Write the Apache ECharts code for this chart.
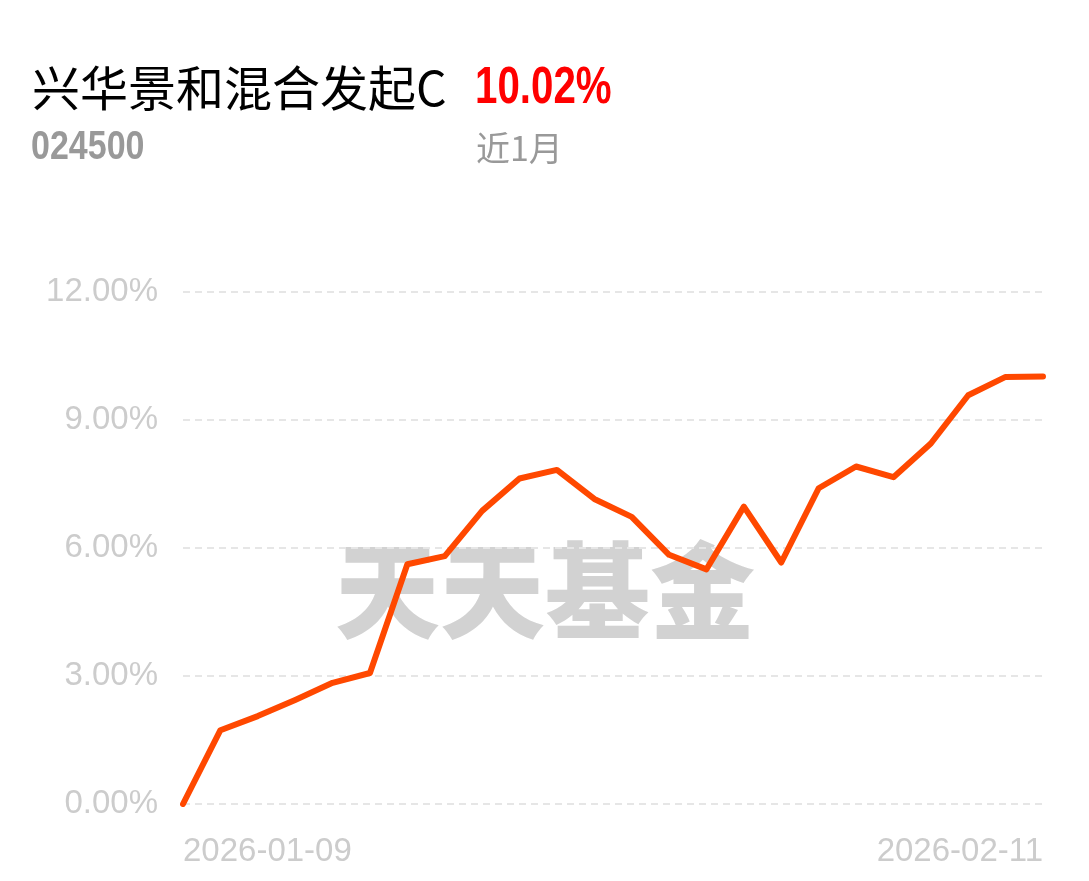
<!DOCTYPE html>
<html>
<head>
<meta charset="utf-8">
<script src="https://cdn.jsdelivr.net/npm/echarts@6/dist/echarts.min.js"></script>
<style>
html,body{margin:0;padding:0;background:#fff;}
#c{width:1089px;height:881px;}
</style>
</head>
<body>
<div id="c"></div>
<script>
var fundName = '兴华景和混合发起C';
var fundCode = '024500';
var periodReturn = '10.02%';
var periodLabel = '近1月';
var watermark = '天天基金';

var dates = ['2026-01-09','2026-01-12','2026-01-13','2026-01-14','2026-01-15','2026-01-16',
  '2026-01-19','2026-01-20','2026-01-21','2026-01-22','2026-01-23',
  '2026-01-26','2026-01-27','2026-01-28','2026-01-29','2026-01-30',
  '2026-02-02','2026-02-03','2026-02-04','2026-02-05','2026-02-06',
  '2026-02-09','2026-02-10','2026-02-11'];
var returns = [0, 1.73, 2.06, 2.44, 2.84, 3.07,
  5.62, 5.81, 6.87, 7.63, 7.83,
  7.15, 6.73, 5.84, 5.50, 6.97,
  5.66, 7.40, 7.91, 7.66, 8.45,
  9.58, 10.01, 10.02];
var yTicks = [0, 3, 6, 9, 12];

var chart = echarts.init(document.getElementById('c'));
chart.setOption({
  backgroundColor: '#fff',
  animation: false,
  graphic: [
    {type:'text', x:32, y:64, z:10, style:{text:fundName, fill:'#000', font:'48px "Noto Sans CJK SC"'}},
    {type:'text', x:475, y:63, scaleX:0.79, z:10, style:{text:periodReturn, fill:'#ff0000', font:'bold 51px "Liberation Sans", sans-serif'}},
    {type:'text', x:31, y:128, scaleX:0.85, z:10, style:{text:fundCode, fill:'#999999', font:'bold 40px "Liberation Sans", sans-serif'}},
    {type:'text', x:476, y:131, z:10, style:{text:periodLabel, fill:'#999999', font:'34px "Noto Sans CJK SC"'}},
    {type:'text', x:545, y:590, z:0, style:{text:watermark, fill:'#d2d2d2', font:'900 105px "Noto Sans CJK SC"', align:'center', verticalAlign:'middle'}}
  ],
  grid: {left:183, right:46, top:292, bottom:77, containLabel:false},
  xAxis: {
    type:'category', data:dates, boundaryGap:false,
    axisLine:{show:false}, axisTick:{show:false},
    axisLabel:{
      color:'#cccccc', fontSize:33, fontFamily:'Liberation Sans', margin:31,
      interval:function(i){return i===0 || i===dates.length-1;},
      alignMinLabel:'left', alignMaxLabel:'right'
    },
    splitLine:{show:false}
  },
  yAxis: {
    type:'value', min:yTicks[0], max:yTicks[yTicks.length-1], interval:3,
    axisLine:{show:false}, axisTick:{show:false},
    axisLabel:{color:'#cccccc', fontSize:33, fontFamily:'Liberation Sans', margin:25,
      formatter:function(v){return v.toFixed(2)+'%';}},
    splitLine:{show:true, lineStyle:{color:'#e6e6e6', width:2, type:[7,5]}}
  },
  series: [{
    type:'line', data:returns, showSymbol:false, symbol:'none', z:5,
    lineStyle:{color:'#ff4800', width:6, cap:'round', join:'round'}
  }]
});
</script>
</body>
</html>
